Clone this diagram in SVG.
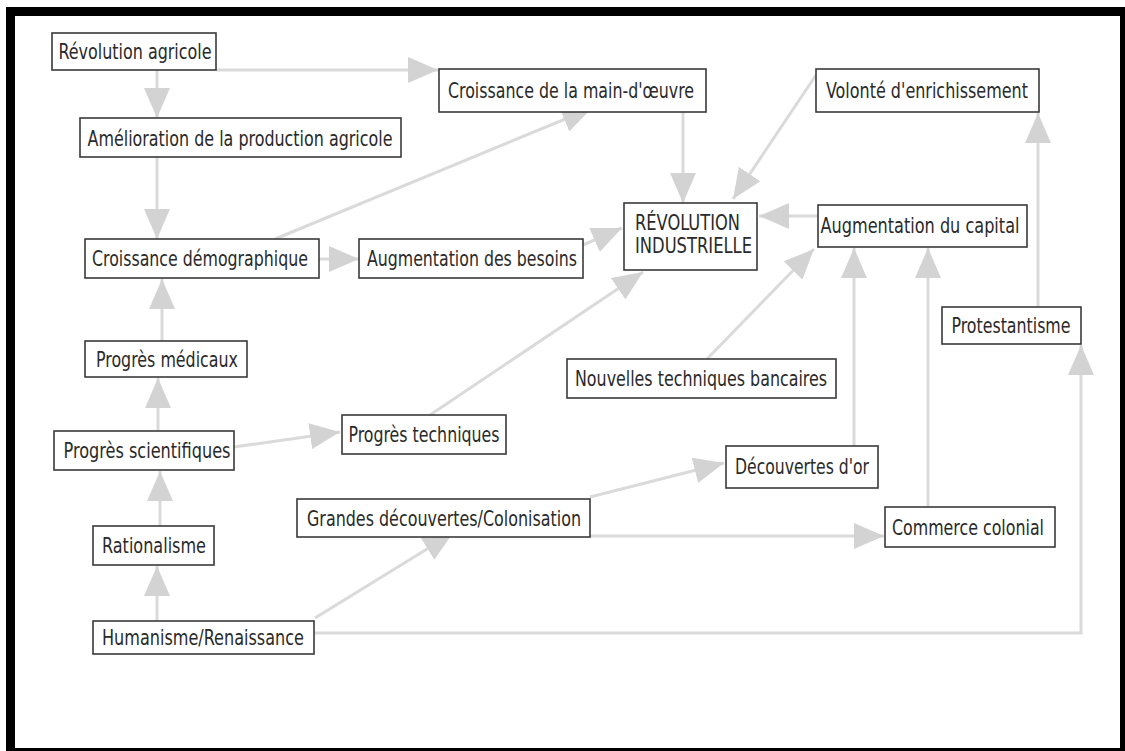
<svg xmlns="http://www.w3.org/2000/svg" width="1125" height="751" viewBox="0 0 1125 751">
<style>
.box{fill:#fff;stroke:#3a3a3a;stroke-width:1.6}
.t{font-family:"Liberation Sans Narrow","Arial Narrow","DejaVu Sans Condensed","Liberation Sans",sans-serif;font-size:21px;fill:#2a2a2a;text-anchor:middle}
.c{fill:none;stroke:#dadada;stroke-width:3}
</style>
<defs>
<marker id="ah" markerUnits="userSpaceOnUse" markerWidth="30" markerHeight="26" refX="30" refY="13" orient="auto">
<path d="M0,0 L30,13 L0,26 z" fill="#d3d3d3"/>
</marker>
</defs>
<rect x="0" y="0" width="1125" height="751" fill="#fff"/>
<rect x="10.5" y="11.5" width="1114" height="741" fill="none" stroke="#000" stroke-width="9"/>
<g id="connectors">
<path class="c" d="M216,70 L438,70" marker-end="url(#ah)"/>
<path class="c" d="M157,70 L157,118" marker-end="url(#ah)"/>
<path class="c" d="M157,157 L157,239" marker-end="url(#ah)"/>
<path class="c" d="M275,239 L592,108" marker-end="url(#ah)"/>
<path class="c" d="M319,259 L359,259" marker-end="url(#ah)"/>
<path class="c" d="M583,245 L622,228" marker-end="url(#ah)"/>
<path class="c" d="M683,112 L683,203" marker-end="url(#ah)"/>
<path class="c" d="M816,75 L733,199" marker-end="url(#ah)"/>
<path class="c" d="M818,216 L759,216" marker-end="url(#ah)"/>
<path class="c" d="M430,415 L643,272" marker-end="url(#ah)"/>
<path class="c" d="M707,359 L814,249" marker-end="url(#ah)"/>
<path class="c" d="M854,446 L854,248" marker-end="url(#ah)"/>
<path class="c" d="M928,507 L928,248" marker-end="url(#ah)"/>
<path class="c" d="M1038,307 L1038,113" marker-end="url(#ah)"/>
<path class="c" d="M314,633 L1081,633 L1081,345" marker-end="url(#ah)"/>
<path class="c" d="M315,618 L453,533" marker-end="url(#ah)"/>
<path class="c" d="M590,497 L724,463" marker-end="url(#ah)"/>
<path class="c" d="M590,536 L884,536" marker-end="url(#ah)"/>
<path class="c" d="M234,447 L340,432" marker-end="url(#ah)"/>
<path class="c" d="M158,431 L158,378" marker-end="url(#ah)"/>
<path class="c" d="M162,341 L162,279" marker-end="url(#ah)"/>
<path class="c" d="M160,526 L160,471" marker-end="url(#ah)"/>
<path class="c" d="M157,621 L157,566" marker-end="url(#ah)"/>
</g>
<g id="n-revolution-agricole"><rect class="box" x="52" y="33" width="164" height="37"/><text class="t" x="135" y="59" textLength="153" lengthAdjust="spacingAndGlyphs">Révolution agricole</text></g>
<g id="n-amelioration"><rect class="box" x="80" y="118" width="321" height="39"/><text class="t" x="240" y="146" textLength="305" lengthAdjust="spacingAndGlyphs">Amélioration de la production agricole</text></g>
<g id="n-main-oeuvre"><rect class="box" x="439" y="69" width="267" height="43"/><text class="t" x="571" y="98" textLength="246" lengthAdjust="spacingAndGlyphs">Croissance de la main-d'œuvre</text></g>
<g id="n-volonte"><rect class="box" x="816" y="69" width="223" height="43"/><text class="t" x="927" y="98" textLength="202" lengthAdjust="spacingAndGlyphs">Volonté d'enrichissement</text></g>
<g id="n-revolution-industrielle"><rect class="box" x="624" y="203" width="133" height="67"/><text class="t" x="635" y="230" style="text-anchor:start" textLength="105" lengthAdjust="spacingAndGlyphs">RÉVOLUTION</text><text class="t" x="635" y="253" style="text-anchor:start" textLength="117" lengthAdjust="spacingAndGlyphs">INDUSTRIELLE</text></g>
<g id="n-capital"><rect class="box" x="818" y="205" width="209" height="42"/><text class="t" x="920" y="233" textLength="199" lengthAdjust="spacingAndGlyphs">Augmentation du capital</text></g>
<g id="n-besoins"><rect class="box" x="359" y="239" width="224" height="39"/><text class="t" x="472" y="266" textLength="210" lengthAdjust="spacingAndGlyphs">Augmentation des besoins</text></g>
<g id="n-demographique"><rect class="box" x="85" y="239" width="234" height="39"/><text class="t" x="200" y="266" textLength="216" lengthAdjust="spacingAndGlyphs">Croissance démographique</text></g>
<g id="n-medicaux"><rect class="box" x="85" y="341" width="162" height="36"/><text class="t" x="167" y="367" textLength="142" lengthAdjust="spacingAndGlyphs">Progrès médicaux</text></g>
<g id="n-protestantisme"><rect class="box" x="942" y="307" width="139" height="37"/><text class="t" x="1011" y="333" textLength="119" lengthAdjust="spacingAndGlyphs">Protestantisme</text></g>
<g id="n-bancaires"><rect class="box" x="567" y="359" width="269" height="39"/><text class="t" x="701" y="386" textLength="252" lengthAdjust="spacingAndGlyphs">Nouvelles techniques bancaires</text></g>
<g id="n-techniques"><rect class="box" x="342" y="415" width="164" height="39"/><text class="t" x="424" y="442" textLength="151" lengthAdjust="spacingAndGlyphs">Progrès techniques</text></g>
<g id="n-scientifiques"><rect class="box" x="54" y="431" width="180" height="39"/><text class="t" x="147" y="458" textLength="167" lengthAdjust="spacingAndGlyphs">Progrès scientifiques</text></g>
<g id="n-or"><rect class="box" x="726" y="446" width="152" height="42"/><text class="t" x="802" y="474" textLength="134" lengthAdjust="spacingAndGlyphs">Découvertes d'or</text></g>
<g id="n-grandes"><rect class="box" x="297" y="499" width="293" height="38"/><text class="t" x="444" y="526" textLength="274" lengthAdjust="spacingAndGlyphs">Grandes découvertes/Colonisation</text></g>
<g id="n-commerce"><rect class="box" x="885" y="507" width="170" height="40"/><text class="t" x="968" y="535" textLength="152" lengthAdjust="spacingAndGlyphs">Commerce colonial</text></g>
<g id="n-rationalisme"><rect class="box" x="93" y="526" width="121" height="39"/><text class="t" x="154" y="553" textLength="104" lengthAdjust="spacingAndGlyphs">Rationalisme</text></g>
<g id="n-humanisme"><rect class="box" x="93" y="621" width="221" height="33"/><text class="t" x="203" y="645" textLength="202" lengthAdjust="spacingAndGlyphs">Humanisme/Renaissance</text></g>
</svg>
